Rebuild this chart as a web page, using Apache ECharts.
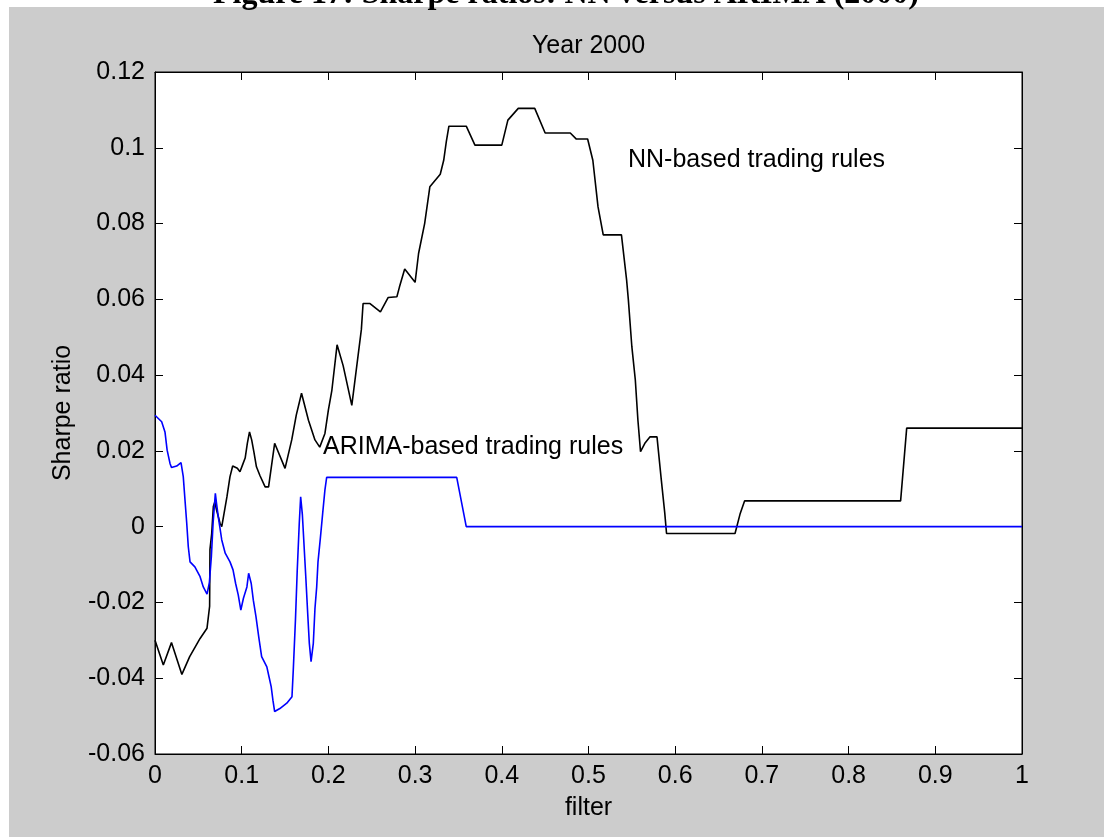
<!DOCTYPE html>
<html>
<head>
<meta charset="utf-8">
<script src="https://cdn.jsdelivr.net/npm/echarts@6/dist/echarts.min.js"></script>
<style>
  html, body { margin: 0; padding: 0; background: #ffffff; }
  #bg { position: absolute; left: 9px; top: 7px; width: 1095px; height: 830px; background: #cccccc; }
  #chart { position: absolute; left: 0; top: 0; width: 1119px; height: 837px; }
</style>
</head>
<body>
<div id="bg"></div>
<div id="chart"></div>
<script>
// ---- data ----
const xTickLabels = ['0', '0.1', '0.2', '0.3', '0.4', '0.5', '0.6', '0.7', '0.8', '0.9', '1'];
const yTickLabels = ['-0.06', '-0.04', '-0.02', '0', '0.02', '0.04', '0.06', '0.08', '0.1', '0.12'];

const nnX = [0.000, 0.0096, 0.019, 0.031, 0.040, 0.052, 0.060, 0.063, 0.0634, 0.0654, 0.0673, 0.069, 0.071, 0.075, 0.077,
  0.081, 0.083, 0.0865, 0.0896, 0.095, 0.098, 0.101, 0.104, 0.1065, 0.109, 0.1115, 0.114, 0.117, 0.121, 0.127, 0.131,
  0.138, 0.150, 0.1577, 0.163, 0.169, 0.177, 0.1845, 0.190, 0.196, 0.200, 0.204, 0.210, 0.217, 0.227, 0.238, 0.240,
  0.248, 0.260, 0.269, 0.279, 0.282, 0.288, 0.300, 0.304, 0.311, 0.317, 0.329, 0.333, 0.336, 0.339, 0.359, 0.369,
  0.400, 0.407, 0.419, 0.438, 0.450, 0.479, 0.486, 0.499, 0.505, 0.511, 0.517, 0.538, 0.544, 0.546, 0.550, 0.554,
  0.557, 0.560, 0.565, 0.571, 0.579, 0.584, 0.588, 0.590, 0.669, 0.675, 0.680, 0.860, 0.867, 1.000];
const nnY = [-0.030, -0.0365, -0.0306, -0.039, -0.0343, -0.0295, -0.0268, -0.021, -0.006, -0.0018, 0.0053, 0.0065, 0.0044, 0.0009, 0.0,
  0.0053, 0.0079, 0.0132, 0.016, 0.0154, 0.0145, 0.0163, 0.0181, 0.022, 0.025, 0.0229, 0.0198, 0.0158, 0.0135, 0.0105, 0.0105,
  0.022, 0.0154, 0.0229, 0.0295, 0.0352, 0.0281, 0.0229, 0.021, 0.0246, 0.0308, 0.036, 0.048, 0.0425, 0.032, 0.052, 0.0589,
  0.0589, 0.0567, 0.0605, 0.0607, 0.0633, 0.068, 0.0645, 0.0721, 0.080, 0.0897, 0.093, 0.0967, 0.1016, 0.1057, 0.1057, 0.1007,
  0.1007, 0.1073, 0.1104, 0.1104, 0.1039, 0.1039, 0.1023, 0.1023, 0.0967, 0.0844, 0.077, 0.077, 0.065, 0.0598, 0.0475, 0.0387,
  0.0281, 0.0198, 0.022, 0.0237, 0.0237, 0.0123, 0.0035, -0.0018, -0.0018, 0.0035, 0.0068, 0.0068, 0.026, 0.026];

const arimaX = [0.000, 0.0077, 0.0115, 0.014, 0.0173, 0.019, 0.025, 0.030, 0.0326, 0.0346, 0.0366, 0.0384, 0.0404, 0.046,
  0.052, 0.0557, 0.060, 0.0627, 0.065, 0.067, 0.0696, 0.071, 0.073, 0.077, 0.081, 0.0865, 0.090, 0.093, 0.096, 0.099,
  0.102, 0.106, 0.108, 0.111, 0.1134, 0.1165, 0.1196, 0.123, 0.129, 0.1315, 0.134, 0.136, 0.138, 0.144, 0.152, 0.158,
  0.1595, 0.162, 0.164, 0.1664, 0.168, 0.170, 0.172, 0.174, 0.176, 0.178, 0.180, 0.1826, 0.1845, 0.1865, 0.188, 0.1907,
  0.1934, 0.196, 0.198, 0.348, 0.359, 1.000];
const arimaY = [0.0294, 0.0277, 0.025, 0.0202, 0.0167, 0.0156, 0.016, 0.0169, 0.0132, 0.007, 0.0009, -0.0053, -0.0093, -0.0106,
  -0.0132, -0.0159, -0.0178, -0.0148, -0.0079, 0.0009, 0.0088, 0.0061, 0.0026, -0.0035, -0.007, -0.0093, -0.0114, -0.015, -0.018, -0.022,
  -0.0189, -0.0159, -0.0123, -0.015, -0.0194, -0.0238, -0.029, -0.0343, -0.037, -0.0396, -0.0422, -0.0458, -0.0488, -0.048, -0.0466, -0.0449,
  -0.0378, -0.0246, -0.0119, 0.0009, 0.0079, 0.0031, -0.0053, -0.0136, -0.0224, -0.0308, -0.0356, -0.0308, -0.0216, -0.0159, -0.0093, -0.0031,
  0.0035, 0.0097, 0.013, 0.013, 0.0, 0.0];

const zip = (xs, ys) => xs.map((x, i) => [x, ys[i]]);

const FONT = '"Liberation Sans", Arial, sans-serif';
const chart = echarts.init(document.getElementById('chart'), null, { renderer: 'canvas' });

const xLabelFmt = v => xTickLabels[Math.round(v * 10)] ?? '';
const yLabelFmt = v => yTickLabels[Math.round((v + 0.06) / 0.02)] ?? '';

const axisCommon = {
  axisLine: { show: true, onZero: false, lineStyle: { color: '#000', width: 1 } },
  axisTick: { show: true, inside: true, length: 8, lineStyle: { color: '#000', width: 1 } },
  splitLine: { show: false }
};

chart.setOption({
  animation: false,
  backgroundColor: 'transparent',
  grid: { left: 155, top: 72, right: 97, bottom: 83, show: true, backgroundColor: '#ffffff', borderColor: '#000', borderWidth: 1 },
  xAxis: [
    Object.assign({
      type: 'value', min: 0, max: 1, interval: 0.1, position: 'bottom',
      name: 'filter', nameLocation: 'middle', nameGap: 42,
      nameTextStyle: { fontFamily: FONT, fontSize: 25, color: '#000' },
      axisLabel: { fontFamily: FONT, fontSize: 25, color: '#000', margin: 10, formatter: xLabelFmt }
    }, axisCommon),
    Object.assign({
      type: 'value', min: 0, max: 1, interval: 0.1, position: 'top',
      axisLabel: { show: false }
    }, axisCommon)
  ],
  yAxis: [
    Object.assign({
      type: 'value', min: -0.06, max: 0.12, interval: 0.02, position: 'left',
      name: 'Sharpe ratio', nameLocation: 'middle', nameGap: 79,
      nameTextStyle: { fontFamily: FONT, fontSize: 25, color: '#000' },
      axisLabel: { fontFamily: FONT, fontSize: 25, color: '#000', margin: 10, formatter: yLabelFmt }
    }, axisCommon),
    Object.assign({
      type: 'value', min: -0.06, max: 0.12, interval: 0.02, position: 'right',
      axisLabel: { show: false }
    }, axisCommon)
  ],
  series: [
    {
      name: 'NN', type: 'line', xAxisIndex: 0, yAxisIndex: 0,
      data: zip(nnX, nnY), showSymbol: false, symbol: 'none',
      lineStyle: { color: '#000000', width: 1.6 }, z: 2
    },
    {
      name: 'ARIMA', type: 'line', xAxisIndex: 0, yAxisIndex: 0,
      data: zip(arimaX, arimaY), showSymbol: false, symbol: 'none',
      lineStyle: { color: '#0000ff', width: 1.6 }, z: 3
    }
  ],
  graphic: [
    { type: 'text', left: 213, top: -21, z: 10,
      style: { text: 'Figure 17: Sharpe ratios: NN versus ARIMA (2000)', font: 'bold 32px "Liberation Serif", "Times New Roman", serif', fill: '#000' } },
    { type: 'text', x: 588.5, y: 46, z: 10,
      style: { text: 'Year 2000', font: '25px ' + FONT, fill: '#000', textAlign: 'center', textVerticalAlign: 'middle' } },
    { type: 'text', x: 628, y: 160, z: 10,
      style: { text: 'NN-based trading rules', font: '25px ' + FONT, fill: '#000', textAlign: 'left', textVerticalAlign: 'middle' } },
    { type: 'text', x: 323, y: 447, z: 10,
      style: { text: 'ARIMA-based trading rules', font: '25px ' + FONT, fill: '#000', textAlign: 'left', textVerticalAlign: 'middle' } }
  ]
});
</script>
</body>
</html>
